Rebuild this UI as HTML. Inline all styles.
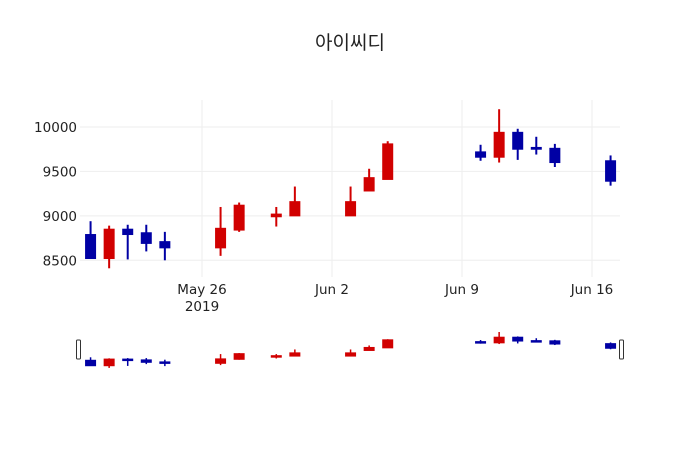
<!DOCTYPE html>
<html><head><meta charset="utf-8"><style>
body{margin:0;background:#fff;}
svg{display:block;font-family:"DejaVu Sans","Noto Sans CJK KR",sans-serif;}
</style></head><body>
<svg id="c" width="700" height="450"></svg>
<script>
const dates=["2019-05-20","2019-05-21","2019-05-22","2019-05-23","2019-05-24","2019-05-27","2019-05-28","2019-05-30","2019-05-31","2019-06-03","2019-06-04","2019-06-05","2019-06-10","2019-06-11","2019-06-12","2019-06-13","2019-06-14","2019-06-17"];
const opens=[8790,8520,8850,8810,8710,8640,8840,8990,9000,9000,9280,9410,9720,9660,9940,9770,9760,9620];
const highs=[8940,8890,8900,8900,8820,9100,9150,9100,9330,9330,9530,9840,9800,10200,9980,9890,9810,9680];
const lows=[8520,8410,8510,8600,8500,8550,8820,8880,9000,9000,9280,9410,9620,9600,9630,9690,9550,9340];
const closes=[8520,8850,8790,8690,8640,8860,9120,9020,9160,9160,9430,9810,9660,9940,9750,9750,9600,9390];
const yTicks=[8500,9000,9500,10000];
const xTicks=["2019-05-26","2019-06-02","2019-06-09","2019-06-16"];
const xTickLabels=["May 26","Jun 2","Jun 9","Jun 16"];
const NS="http://www.w3.org/2000/svg";
const svg=document.getElementById('c');
const DAY=86400000, base=Date.parse("2019-05-26");
const pxDay=130/7;
function x(d){return 202+(Date.parse(d)-base)/DAY*pxDay;}
function y(v){return 127+(10000-v)*(133.3/1500);}
function ys(v){return 332+(10200-v)/(10200-8406)*36;}
function el(t,a,p){const e=document.createElementNS(NS,t);for(const k in a)e.setAttribute(k,a[k]);(p||svg).appendChild(e);return e;}
const X0=80,X1=620,Y0=100,Y1=277;
const grid=el('g',{});


yTicks.forEach(t=>{
  el('line',{x1:X0,x2:X1,y1:y(t),y2:y(t),stroke:'#eee','stroke-width':1},grid);
  const tx=el('text',{x:X0-3,y:y(t)+5,'text-anchor':'end','font-size':13.5,fill:'#222'});
  tx.textContent=t;
  
  
});
xTicks.forEach((t,i)=>{
  el('line',{x1:x(t),x2:x(t),y1:Y0,y2:Y1,stroke:'#eee','stroke-width':1},grid);
  const tx=el('text',{x:x(t),y:294,'text-anchor':'middle','font-size':13.5,fill:'#222'});
  tx.textContent=xTickLabels[i];
  
  
});
const yr=el('text',{x:x(xTicks[0]),y:311,'text-anchor':'middle','font-size':13.5,fill:'#222'});
yr.textContent='2019';


const title=el('text',{x:350,y:49,'text-anchor':'middle','font-size':19,fill:'#222'});
title.textContent='아이씨디';


function candles(fy,w,sw,name){
  const g=el('g',{});
  
  
  dates.forEach((d,i)=>{
    const up=closes[i]>=opens[i];const c=up?'#d10000':'#0000a4';
    const cx=x(d);
    el('line',{x1:cx,x2:cx,y1:fy(highs[i]),y2:fy(lows[i]),stroke:c,'stroke-width':sw},g);
    const t=fy(Math.max(opens[i],closes[i])),b=fy(Math.min(opens[i],closes[i]));
    const r=el('rect',{x:cx-w/2,y:t,width:w,height:Math.max(b-t,1.5),fill:c,stroke:c,'stroke-width':1},g);
    
    
  });
}
candles(y,10,2,'main-candles');
candles(ys,10,1.5,'rangeslider-candles');
[X0-2,X1+1].forEach((hx,i)=>{
  const h=el('rect',{x:hx-1.5,y:340,width:4,height:19,rx:1,fill:'#fff',stroke:'#333','stroke-width':1});
  
  
});
</script>
</body></html>
